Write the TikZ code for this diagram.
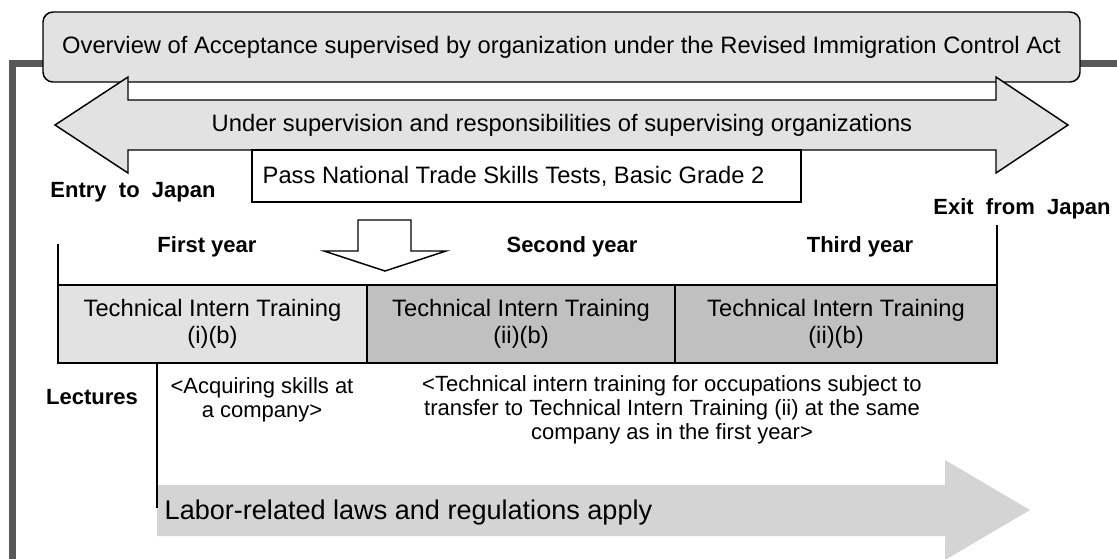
\documentclass[tikz,border=0pt]{standalone}
\usepackage{fontspec}
\setmainfont{Liberation Sans}
\usetikzlibrary{positioning}
\definecolor{framegray}{RGB}{88,88,88}
\definecolor{softgray}{RGB}{226,226,226}
\definecolor{midgray}{RGB}{192,192,192}
\definecolor{lawgray}{RGB}{212,212,212}

\begin{document}
\begin{tikzpicture}[x=0.75pt, y=-0.75pt,
  box/.style={draw, line width=1.1pt, align=center, inner sep=0pt, outer sep=0pt,
              font=\fontsize{17.8}{20.5}\selectfont},
  tbox/.style={box, minimum height=58.5pt},
  lbl/.style={font=\fontsize{16.5}{19}\selectfont\bfseries},
  note/.style={align=center, font=\fontsize{16.5}{18}\selectfont},
  outline/.style={draw, line width=1.1pt, line join=miter},
  thin/.style={line width=1.1pt}]

  \useasboundingbox (0,0) rectangle (1117,558);

  %% outer frame
  \draw[framegray, line width=5.25pt] (12.5,570) |- (1130,63.5);

  %% title box
  \node[box, rounded corners=7.5pt, fill=softgray, minimum width=777.75pt,
        minimum height=52.5pt] (overview) at (561.5,47)
        {Overview of Acceptance supervised by organization under the Revised Immigration Control Act};

  %% supervision arrow
  \draw[outline, fill=softgray] (55,125) -- (128,77) -- (128,100) -- (996,100) -- (996,77)
    -- (1068,125) -- (996,173) -- (996,150) -- (128,150) -- (128,173) -- cycle;
  \node[font=\fontsize{17.8}{20.5}\selectfont] (supervise) at (562,125)
    {Under supervision and responsibilities of supervising organizations};

  %% skills test
  \node[box, fill=white, minimum width=411.75pt, minimum height=39pt] (testbox) at (526.5,176) {};
  \node[font=\fontsize{17.8}{20.5}\selectfont, anchor=west] (test) at (258,176)
    {Pass National Trade Skills Tests, Basic Grade 2};

  \node[lbl] (entry) at (133,192) {Entry\ \ to\ \ Japan};
  \node[lbl] (exit) at (1022,209) {Exit\ \ from\ \ Japan};

  %% hollow arrow
  \draw[outline, fill=white] (358,220) -- (411,220) -- (411,251) -- (446,251) -- (385,271)
    -- (324,251) -- (358,251) -- cycle;

  \node[lbl] (year1) at (207,247) {First year};
  \node[lbl] (year2) at (572,247) {Second year};
  \node[lbl] (year3) at (860,247) {Third year};

  %% training stages
  \node[tbox, fill=softgray, minimum width=231.75pt] (tit1) at (212.5,324)
    {Technical Intern Training\\(i)(b)};
  \node[tbox, fill=midgray, minimum width=231pt, right=0pt of tit1] (tit2)
    {Technical Intern Training\\(ii)(b)};
  \node[tbox, fill=midgray, minimum width=241.5pt, right=0pt of tit2] (tit3)
    {Technical Intern Training\\(ii)(b)};

  \coordinate (entrytop) at (58,244);
  \coordinate (exittop) at (997,225);
  \draw[thin] (entrytop) -- (tit1.north west);
  \draw[thin] (exittop) -- (tit3.north east);

  \node[lbl] (lectures) at (92,397) {Lectures};
  \coordinate (lecttop) at (157,363);
  \coordinate (lectbot) at (157,508);

  %% law arrow
  \fill[lawgray] (157,485) -- (945,485) -- (945,460) -- (1030,510) -- (945,560)
    -- (945,536) -- (157,536) -- cycle;
  \node[font=\fontsize{20.3}{24}\selectfont, anchor=west] (law) at (160,512)
    {Labor-related laws and regulations apply};
  \draw[thin] (lecttop) -- (lectbot);

  \node[note] (company) at (262,400) {<Acquiring skills at\\a company>};
  \node[note] (transfer) at (672,410)
    {<Technical intern training for occupations subject to\\
     transfer to Technical Intern Training (ii) at the same\\
     company as in the first year>};
\end{tikzpicture}
\end{document}
